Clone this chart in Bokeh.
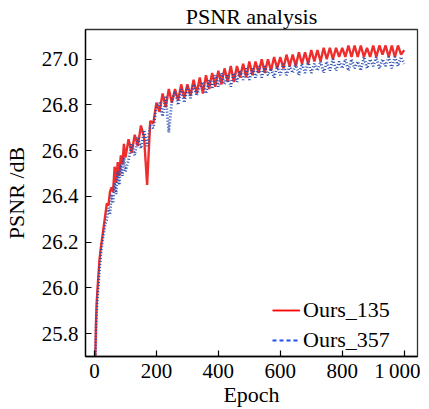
from bokeh.plotting import figure
from bokeh.models import FixedTicker, Range1d, Legend, LegendItem, ColumnDataSource
from bokeh.embed import file_html
from bokeh.resources import INLINE

# ---- data ----
epochs = [1, 3, 5, 7, 10, 13, 16, 20, 25, 30, 35, 40, 45, 50, 55, 60, 65, 70, 75, 80,
          85, 90, 95, 100,
          110, 120, 130, 140, 150, 160, 170, 180, 190, 200,
          210, 220, 230, 240, 250, 260, 270, 280, 290, 300,
          310, 320, 330, 340, 350, 360, 370, 380, 390, 400,
          410, 420, 430, 440, 450, 460, 470, 480, 490, 500,
          510, 520, 530, 540, 550, 560, 570, 580, 590, 600,
          610, 620, 630, 640, 650, 660, 670, 680, 690, 700,
          710, 720, 730, 740, 750, 760, 770, 780, 790, 800,
          810, 820, 830, 840, 850, 860, 870, 880, 890, 900,
          910, 920, 930, 940, 950, 960, 970, 980, 990, 1000]

ours_135 = [25.55, 25.72, 25.85, 25.93, 26.00, 26.06, 26.12, 26.17, 26.22, 26.27,
            26.32, 26.37, 26.36, 26.42, 26.44, 26.42, 26.53, 26.46, 26.55, 26.49,
            26.58, 26.54, 26.63, 26.57,
            26.65, 26.59, 26.67, 26.62, 26.71, 26.66, 26.45, 26.73, 26.72, 26.81,
            26.77, 26.85, 26.79, 26.87, 26.81, 26.87, 26.82, 26.89, 26.83, 26.89,
            26.84, 26.91, 26.85, 26.92, 26.85, 26.93, 26.87, 26.94, 26.88, 26.95,
            26.89, 26.96, 26.90, 26.97, 26.90, 26.97, 26.92, 26.98, 26.92, 26.99,
            26.93, 26.99, 26.94, 27.00, 26.94, 27.00, 26.95, 27.01, 26.96, 27.01,
            26.96, 27.02, 26.97, 27.02, 26.97, 27.03, 26.98, 27.03, 26.98, 27.04,
            26.99, 27.04, 26.99, 27.05, 27.00, 27.05, 27.00, 27.05, 27.01, 27.05,
            27.01, 27.06, 27.01, 27.06, 27.01, 27.06, 27.01, 27.05, 27.01, 27.06,
            27.01, 27.06, 27.02, 27.06, 27.01, 27.06, 27.01, 27.06, 27.02, 27.04]

ours_357 = [25.55, 25.70, 25.82, 25.90, 25.97, 26.02, 26.08, 26.14, 26.20, 26.24,
            26.28, 26.30, 26.35, 26.32, 26.41, 26.37, 26.46, 26.41, 26.51, 26.45,
            26.54, 26.49, 26.57, 26.51,
            26.56, 26.63, 26.58, 26.66, 26.61, 26.69, 26.62, 26.71, 26.70, 26.79,
            26.81, 26.75, 26.84, 26.68, 26.82, 26.86, 26.80, 26.87, 26.81, 26.88,
            26.83, 26.89, 26.84, 26.88, 26.90, 26.85, 26.91, 26.87, 26.93, 26.88,
            26.94, 26.89, 26.93, 26.88, 26.94, 26.90, 26.95, 26.91, 26.96, 26.91,
            26.96, 26.92, 26.97, 26.92, 26.97, 26.93, 26.96, 26.92, 26.97, 26.93,
            26.98, 26.93, 26.97, 26.94, 26.98, 26.93, 26.98, 26.94, 26.99, 26.94,
            26.98, 26.95, 26.99, 26.94, 26.99, 26.95, 27.00, 26.95, 26.99, 26.96,
            27.00, 26.95, 27.00, 26.96, 26.99, 26.95, 27.01, 26.96, 27.00, 26.97,
            27.01, 26.96, 27.00, 26.97, 27.01, 26.96, 27.01, 26.97, 27.01, 26.98]

x_ticks = [0, 200, 400, 600, 800, 1000]
x_tick_labels = ["0", "200", "400", "600", "800", "1\u2009000"]
y_ticks = [25.8, 26.0, 26.2, 26.4, 26.6, 26.8, 27.0]
y_tick_labels = ["25.8", "26.0", "26.2", "26.4", "26.6", "26.8", "27.0"]
series_names = ["Ours_135", "Ours_357"]

FONT = "Liberation Serif"

p = figure(frame_width=332, frame_height=327,
           x_range=Range1d(-29, 1043), y_range=Range1d(25.70, 27.13),
           output_backend="svg", toolbar_location=None,
           title="PSNR analysis",
           min_border_left=78, min_border_right=3, min_border_bottom=40, min_border_top=0)

p.title.align = "center"
p.title.text_font = FONT
p.title.text_font_style = "normal"
p.title.text_font_size = "22px"
p.title.text_color = "black"
p.title.standoff = 2

src = ColumnDataSource(dict(x=epochs, a=ours_135, b=ours_357))
r1 = p.line("x", "a", source=src, line_color="#ee2222", line_width=2.4, line_alpha=0.95)
r2 = p.line("x", "b", source=src, line_color="#2a4db0", line_width=2.8,
            line_dash="1 2")

# legend proxies (drawn outside the visible range)
l1 = p.line([-500, -400], [20, 20], line_color="#ff0000", line_width=1.8)
l2 = p.line([-500, -400], [20, 20], line_color="#1f4ff0", line_width=1.8, line_dash="4 3")

legend = Legend(items=[LegendItem(label=series_names[0], renderers=[l1]),
                       LegendItem(label=series_names[1], renderers=[l2])],
                location=(187, 3))
legend.label_text_font = FONT
legend.label_text_font_size = "22px"
legend.label_text_color = "black"
legend.label_standoff = 3
legend.glyph_width = 28
legend.label_height = 24
legend.glyph_height = 24
legend.spacing = 4
legend.padding = 0
legend.margin = 0
legend.border_line_alpha = 0
legend.background_fill_alpha = 0
p.add_layout(legend, "center")

p.grid.visible = False
p.outline_line_color = "#333333"
p.outline_line_width = 1.3

for ax in (p.xaxis[0], p.yaxis[0]):
    ax.major_label_text_font = FONT
    ax.major_label_text_font_size = "21px"
    ax.axis_label_text_font = FONT
    ax.axis_label_text_font_size = "22px"
    ax.axis_label_text_font_style = "normal"
    ax.axis_label_text_color = "black"
    ax.major_tick_in = 6
    ax.major_tick_out = 0
    ax.minor_tick_in = 0
    ax.minor_tick_out = 0
    ax.axis_line_color = "black"
    ax.axis_line_width = 1.3
    ax.major_tick_line_width = 1.2
    ax.major_label_text_color = "black"

p.xaxis.ticker = FixedTicker(ticks=x_ticks)
p.xaxis.major_label_overrides = {t: l for t, l in zip(x_ticks, x_tick_labels)}
p.yaxis.ticker = FixedTicker(ticks=y_ticks)
p.yaxis.major_label_overrides = {t: l for t, l in zip(y_ticks, y_tick_labels)}
p.xaxis.axis_label = "Epoch"
p.yaxis.axis_label = "PSNR /dB"
p.xaxis.major_label_standoff = 2
p.xaxis.axis_label_standoff = -4
p.yaxis.major_label_standoff = 7
p.yaxis.axis_label_standoff = 10

open("out.html", "w").write(file_html(p, INLINE))
